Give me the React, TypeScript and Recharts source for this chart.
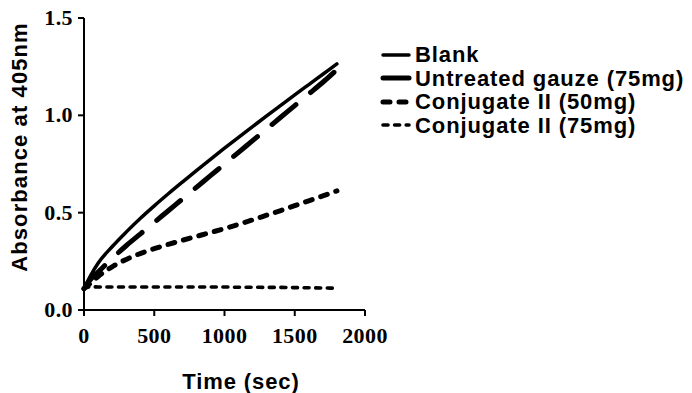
import React from "react";
import { Line, LineChart, XAxis, YAxis } from "recharts";

// time points (sec)
const times = [0, 50, 100, 200, 300, 400, 500, 600, 700, 800, 900, 1000, 1100, 1200, 1300, 1400, 1500, 1600, 1700, 1800];

// absorbance at 405nm
const blank = [0.11, 0.18, 0.24, 0.325, 0.4, 0.47, 0.535, 0.597, 0.657, 0.716, 0.774, 0.831, 0.887, 0.942, 0.997, 1.051, 1.105, 1.158, 1.211, 1.264];
const untreated = [0.11, 0.16, 0.195, 0.265, 0.33, 0.39, 0.45, 0.51, 0.57, 0.63, 0.69, 0.75, 0.81, 0.87, 0.93, 0.99, 1.05, 1.11, 1.17, 1.235];
const conj50 = [0.11, 0.14, 0.172, 0.222, 0.26, 0.29, 0.315, 0.337, 0.358, 0.378, 0.398, 0.418, 0.44, 0.463, 0.487, 0.511, 0.536, 0.561, 0.586, 0.612];
const conj75 = [0.11, 0.12, 0.118, 0.118, 0.118, 0.118, 0.118, 0.118, 0.118, 0.118, 0.118, 0.118, 0.117, 0.117, 0.116, 0.116, 0.115, 0.114, 0.113, 0.112];

const xTicks = [0, 500, 1000, 1500, 2000];
const yTicks = [0, 0.5, 1.0, 1.5];

const series = [
  { key: "blank", name: "Blank", width: 3.5, dash: undefined as string | undefined },
  { key: "untreated", name: "Untreated gauze (75mg)", width: 5, dash: "31 19" },
  { key: "conj50", name: "Conjugate II (50mg)", width: 5, dash: "7 9" },
  { key: "conj75", name: "Conjugate II (75mg)", width: 3.6, dash: "5 6.6" },
];

const data = times.map((t, i) => ({
  t,
  blank: blank[i],
  untreated: untreated[i],
  conj50: conj50[i],
  conj75: conj75[i],
}));

const sans = "'Liberation Sans', Arial, sans-serif";
const serif = "'Liberation Serif', 'Times New Roman', serif";

function XTick(props: any) {
  const { x, y, payload } = props;
  return (
    <text x={x} y={y} dy={21} textAnchor="middle" fontFamily={serif} fontWeight="bold" fontSize={22} letterSpacing={0.4} fill="#000">
      {payload.value}
    </text>
  );
}

function YTick(props: any) {
  const { x, y, payload } = props;
  return (
    <text x={x} y={y} dy={7} textAnchor="end" fontFamily={serif} fontWeight="bold" fontSize={22} letterSpacing={0.4} fill="#000">
      {Number(payload.value).toFixed(1)}
    </text>
  );
}

function KeyLegend() {
  return (
    <div
      style={{
        position: "absolute",
        left: 380,
        top: 43,
        fontFamily: sans,
        fontWeight: "bold",
        fontSize: 22,
        letterSpacing: 0.9,
        color: "#000",
        whiteSpace: "nowrap",
      }}
    >
      {series.map((s) => (
        <div key={s.key} style={{ display: "flex", alignItems: "center", height: 23.5 }}>
          <svg width={34} height={10} style={{ marginRight: 1 }}>
            <line
              x1={3}
              y1={5}
              x2={29}
              y2={5}
              stroke="#000"
              strokeWidth={s.width}
              strokeDasharray={s.dash}
              strokeLinecap="round"
            />
          </svg>
          <span style={{ lineHeight: "23.5px" }}>{s.name}</span>
        </div>
      ))}
    </div>
  );
}

export default function App() {
  return (
    <div style={{ position: "absolute", left: 0, top: 0, width: 692, height: 393, background: "#fff" }}>
      <LineChart width={692} height={393} data={data} margin={{ top: 18, right: 327, bottom: 0, left: 0 }}>
        <XAxis
          dataKey="t"
          type="number"
          domain={[0, 2000]}
          ticks={xTicks}
          height={83}
          tickSize={6}
          tickMargin={6}
          interval={0}
          axisLine={{ stroke: "#000", strokeWidth: 2 }}
          tickLine={{ stroke: "#000", strokeWidth: 2 }}
          tick={<XTick />}
          label={{
            content: () => (
              <text x={241} y={389} textAnchor="middle" fontFamily={sans} fontWeight="bold" fontSize={22} letterSpacing={0.9} fill="#000">
                Time (sec)
              </text>
            ),
          }}
        />
        <YAxis
          type="number"
          domain={[0, 1.5]}
          ticks={yTicks}
          width={84}
          tickSize={6}
          tickMargin={5}
          interval={0}
          axisLine={{ stroke: "#000", strokeWidth: 2 }}
          tickLine={{ stroke: "#000", strokeWidth: 2 }}
          tick={<YTick />}
          label={{
            content: () => (
              <text
                x={27}
                y={147}
                transform="rotate(-90 27 147)"
                textAnchor="middle"
                fontFamily={sans}
                fontWeight="bold"
                fontSize={22}
                letterSpacing={1.1}
                fill="#000"
              >
                Absorbance at 405nm
              </text>
            ),
          }}
        />
        {series.map((s) => (
          <Line
            key={s.key}
            dataKey={s.key}
            name={s.name}
            type="monotone"
            stroke="#000"
            strokeWidth={s.width}
            strokeDasharray={s.dash}
            strokeLinecap="round"
            dot={false}
            activeDot={false}
            isAnimationActive={false}
          />
        ))}
      </LineChart>
      <KeyLegend />
    </div>
  );
}
